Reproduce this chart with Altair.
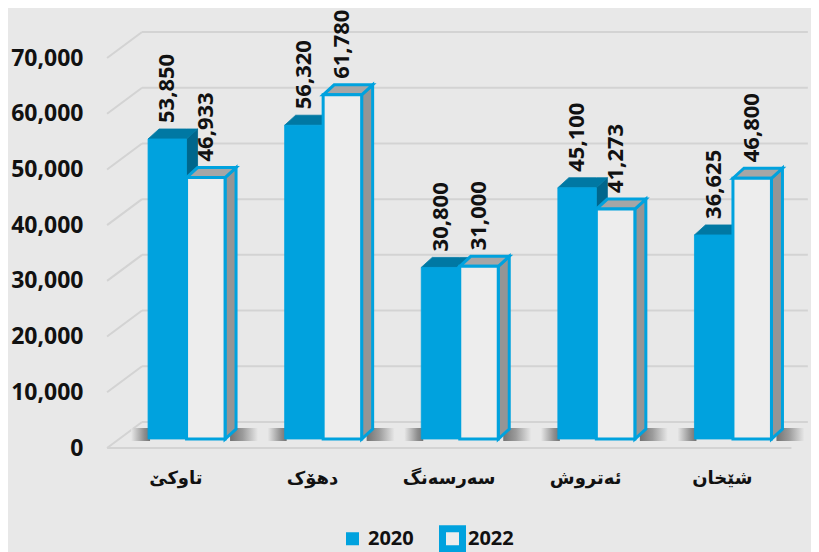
import altair as alt
import pandas as pd

# ---------------- data ----------------
categories = ["تاوکێ", "دهۆک", "سەرسەنگ", "ئەتروش", "شێخان"]
series = ["2020", "2022"]
values_2020 = [53850, 56320, 30800, 45100, 36625]
values_2022 = [46933, 61780, 31000, 41273, 46800]
y_ticks = [0, 10000, 20000, 30000, 40000, 50000, 60000, 70000]

# ---------------- style / geometry ----------------
PLOT_W, PLOT_H = 683, 390
N = len(categories)
STEP = PLOT_W / N
Y_MAX = 70000
BAR_W = 38.5 / STEP          # front face width (x units)
DX = 11 / STEP               # 3-D depth, horizontal
DY = 10 * Y_MAX / PLOT_H     # 3-D depth, vertical (value units)
G0 = 0.22                    # group start inside each step
LBL = 0.42                   # category label position inside each step

BG = "#e8e8e8"
BLUE = "#00a2de"
TOP20, SIDE20 = "#0078a3", "#00668c"
FRONT22, TOP22, SIDE22 = "#ededed", "#a6a6a6", "#959595"
GRID = "#d3d3d3"
NUMFONT = "Open Sans"

# ---------------- derived tables ----------------
vals = {"2020": values_2020, "2022": values_2022}
fronts, faces, shadows = [], [], []
for i, cat in enumerate(categories):
    for j, s in enumerate(series):
        v = vals[s][i]
        x0 = i + G0 + j * BAR_W
        x1 = x0 + BAR_W
        fronts.append(dict(cat=cat, series=s, value=v, x0=x0, x1=x1, xc=(x0 + x1) / 2))
        fid = f"{s}-{i}"
        for xx, yy, yy2 in [(x0, v, v), (x0 + DX, v + DY, v),
                            (x1, v + DY, v), (x1 + DX, v + DY, v + DY)]:
            faces.append(dict(face="top", id=fid, series=s, x=xx, y=yy, y2=yy2))
        for xx, yy, yy2 in [(x1, v, 0), (x1 + DX, v + DY, DY)]:
            faces.append(dict(face="side", id=fid, series=s, x=xx, y=yy, y2=yy2))
    g_left = i + G0
    g_right = i + G0 + 2 * BAR_W + DX
    shadows.append(dict(side="left", sx0=g_left - 17 / STEP, sx1=g_left + 2 / STEP, zero=0))
    shadows.append(dict(side="right", sx0=g_right - 6 / STEP, sx1=g_right + 22 / STEP, zero=0))

fronts = pd.DataFrame(fronts)
faces = pd.DataFrame(faces)
shadows = pd.DataFrame(shadows)
grid = pd.DataFrame(dict(tick=y_ticks, xa=-0.08, xb=0.176, xe=5.05))
floor = pd.DataFrame(dict(zero=[0], xa=[-0.08], xe=[4.93]))

XS = alt.Scale(domain=[0, N], nice=False, zero=False)
YS = alt.Scale(domain=[0, Y_MAX], nice=False, zero=False)

label_js = "[" + ",".join(f"'{c}'" for c in categories) + "]"
X_AX = alt.Axis(values=[i + LBL for i in range(N)],
                labelExpr=f"{label_js}[round(datum.value - {LBL})]",
                title=None, domain=False, ticks=False, grid=False,
                labelFont="DejaVu Sans", labelFontSize=18, labelFontWeight="bold",
                labelColor="#111111", labelPadding=30, labelAngle=0,
                labelFlush=False, labelOverlap=False)
Y_AX = alt.Axis(values=y_ticks, format=",d", title=None, domain=False,
                ticks=False, grid=False, labelFont=NUMFONT, labelFontSize=23,
                labelFontWeight="bold", labelColor="#111111", labelPadding=35,
                labelOffset=9, labelFlush=False, labelOverlap=False)


def X(f):
    return alt.X(f, type="quantitative", scale=XS, axis=X_AX)


def Y(f):
    return alt.Y(f, type="quantitative", scale=YS, axis=Y_AX, stack=None)


layers = []

# grid: diagonal part and back horizontal part
layers.append(alt.Chart(grid).mark_rule(color=GRID, strokeWidth=2, yOffset=9, y2Offset=-17)
              .encode(x=X("xa"), x2="xb", y=Y("tick"), y2="tick"))
layers.append(alt.Chart(grid).mark_rule(color=GRID, strokeWidth=2, yOffset=-17, y2Offset=-17)
              .encode(x=X("xb"), x2="xe", y=Y("tick"), y2="tick"))
layers.append(alt.Chart(floor).mark_rule(color=GRID, strokeWidth=2, yOffset=9, y2Offset=9)
              .encode(x=X("xa"), x2="xe", y=Y("zero"), y2="zero"))

# floor shadows
for side, stops in [("left", [(BG, 0), ("#777777", 0.7), ("#555555", 1)]),
                    ("right", [("#555555", 0), ("#888888", 0.45), (BG, 1)])]:
    grad = alt.Gradient(gradient="linear", x1=0, x2=1, y1=0, y2=0,
                        stops=[alt.GradientStop(color=c, offset=o) for c, o in stops])
    layers.append(alt.Chart(shadows).transform_filter(alt.datum.side == side)
                  .mark_rect(color=grad, yOffset=2, y2Offset=-11, opacity=0.8)
                  .encode(x=X("sx0"), x2="sx1", y=Y("zero"), y2="zero"))

style = {
    "2020": dict(front=BLUE, top=TOP20, side=SIDE20, stroke=None, sw=0),
    "2022": dict(front=FRONT22, top=TOP22, side=SIDE22, stroke=BLUE, sw=3),
}

for s in series:
    st = style[s]
    for face in ["side", "top"]:
        col = st[face]
        mk = dict(fill=col, opacity=1, interpolate="linear", line=False)
        if st["stroke"]:
            mk.update(stroke=st["stroke"], strokeWidth=st["sw"], strokeJoin="miter")
        else:
            mk.update(stroke=col, strokeWidth=0.8)
        layers.append(alt.Chart(faces).transform_filter(
            (alt.datum.series == s) & (alt.datum.face == face))
            .mark_area(**mk)
            .encode(x=X("x"), y=Y("y"), y2="y2", detail="id:N"))
    fm = dict(fill=st["front"])
    if st["stroke"]:
        fm.update(stroke=st["stroke"], strokeWidth=st["sw"], strokeJoin="miter")
    else:
        fm.update(stroke=st["front"], strokeWidth=0.8)
    layers.append(alt.Chart(fronts).transform_filter(alt.datum.series == s)
                  .mark_rect(**fm)
                  .encode(x=X("x0"), x2="x1", y=Y("value"), y2=alt.Y2(datum=0)))

# value labels
layers.append(alt.Chart(fronts).mark_text(angle=270, align="left", baseline="middle",
                                          yOffset=-16, font=NUMFONT, fontSize=22,
                                          fontWeight="bold", color="#111111")
              .encode(x=X("xc"), y=Y("value"), text=alt.Text("value:Q", format=",d")))

# legend carrier (invisible marks); 2020 ring drawn in background colour
legend = alt.Legend(title=None, orient="none", direction="horizontal",
                    legendX=221, legendY=476, symbolType="square", symbolSize=400,
                    symbolStrokeWidth=7, symbolOpacity=1, labelFont=NUMFONT,
                    labelFontSize=20, labelFontWeight="bold", labelColor="#111111",
                    columnPadding=14, labelOffset=2)
layers.append(alt.Chart(fronts).mark_point(shape="square", filled=True, opacity=0)
              .encode(x=X("xc"), y=Y("value"),
                      fill=alt.Fill("series:N", scale=alt.Scale(domain=series, range=[BLUE, FRONT22]), legend=legend),
                      stroke=alt.Stroke("series:N", scale=alt.Scale(domain=series, range=[BG, BLUE]), legend=legend)))

chart = alt.layer(*layers).properties(
    width=PLOT_W, height=PLOT_H,
    autosize=alt.AutoSizeParams(type="none"),
    padding={"left": 110, "top": 41, "right": 10, "bottom": 113},
    background=BG,
).configure_view(stroke=None)

chart.save("out.html", embed_options={"renderer": "svg", "actions": False})
